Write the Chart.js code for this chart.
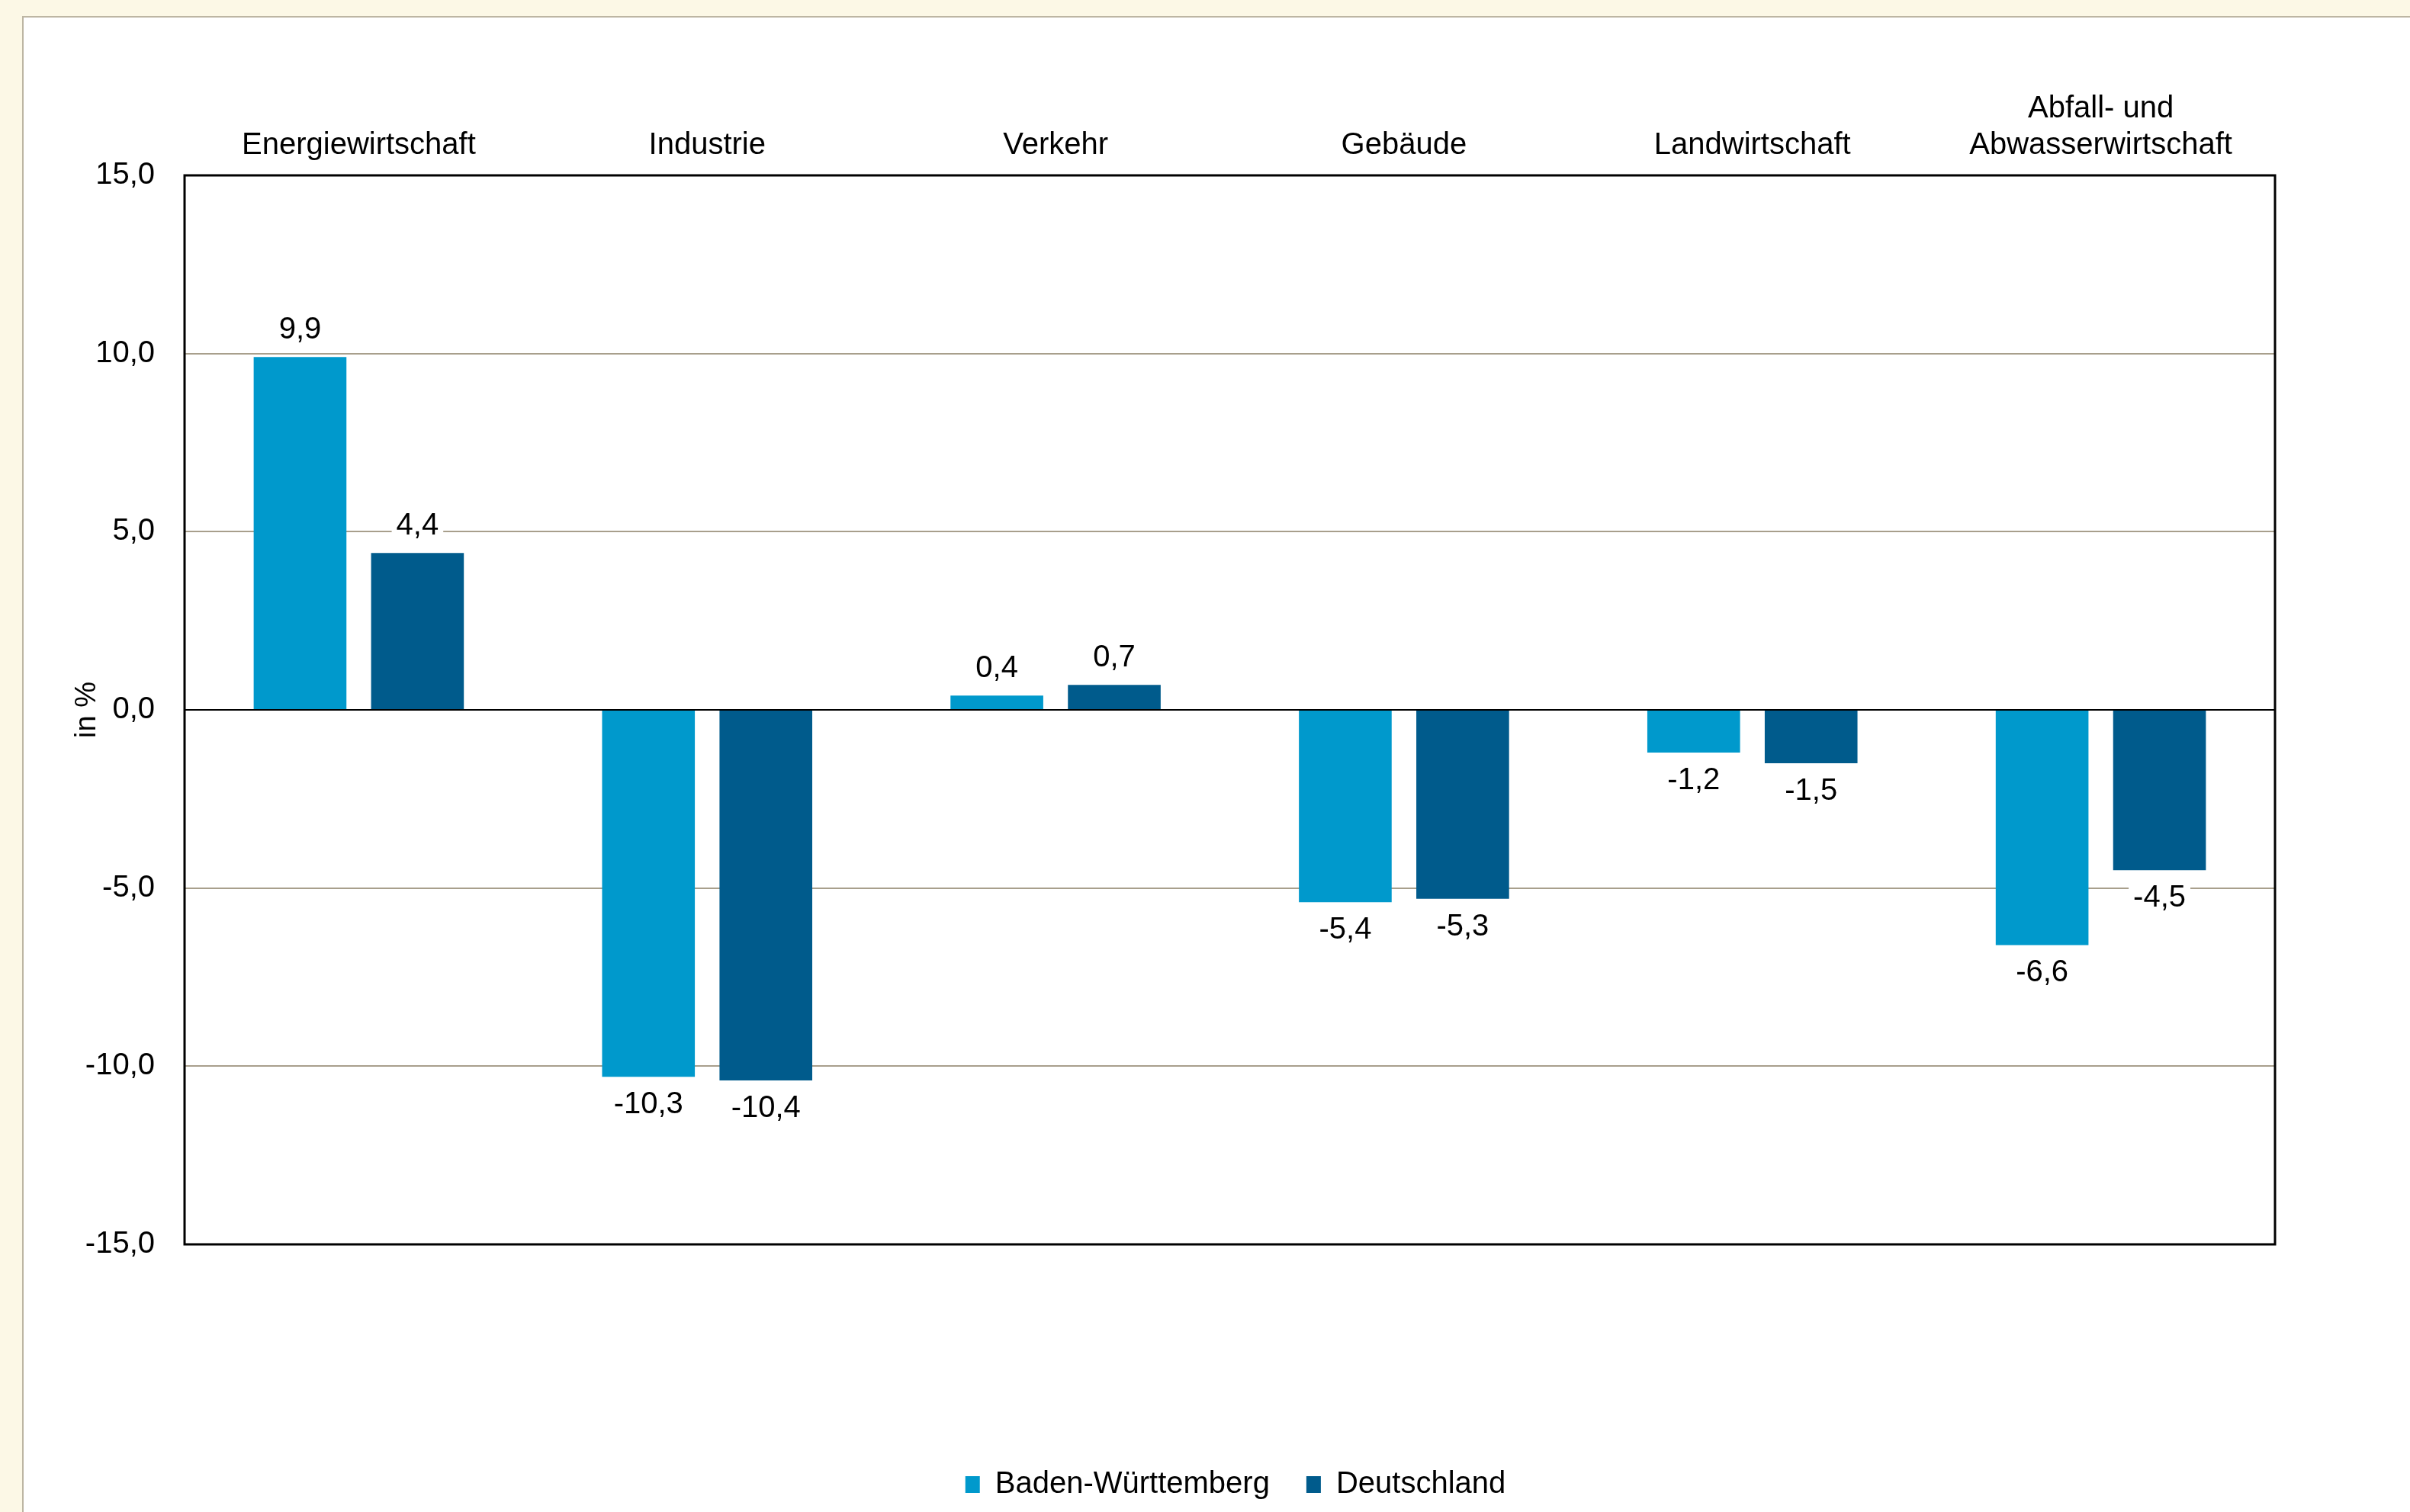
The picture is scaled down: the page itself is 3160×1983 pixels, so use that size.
<!DOCTYPE html>
<html>
<head>
<meta charset="utf-8">
<script src="https://cdn.jsdelivr.net/npm/chart.js@4.4.0/dist/chart.umd.min.js"></script>
<style>
  html, body { margin: 0; padding: 0; background: #fcf8e6; overflow: hidden; }
  #panel {
    position: absolute; left: 29px; top: 21px; right: 0; bottom: 0;
    background: #ffffff;
    border-left: 2px solid #bdb6a3; border-top: 2px solid #bdb6a3;
  }
  #wrap { position: absolute; left: 0; top: 0; width: 3160px; height: 1983px; }
</style>
</head>
<body>
<div id="panel"></div>
<div id="wrap"><canvas id="emiChart" width="3160" height="1983"></canvas></div>
<script>
const categories = [
    "Energiewirtschaft",
    "Industrie",
    "Verkehr",
    "Gebäude",
    "Landwirtschaft",
    ["Abfall- und", "Abwasserwirtschaft"]
];
const seriesNames = ["Baden-Württemberg", "Deutschland"];
const bwValues = [9.9, -10.3, 0.4, -5.4, -1.2, -6.6];
const deValues = [4.4, -10.4, 0.7, -5.3, -1.5, -4.5];
const yTicks = [-15, -10, -5, 0, 5, 10, 15];

const FONT = "'Liberation Sans', Arial, sans-serif";

function fmt(v) {
    return v.toFixed(1).replace(".", ",");
}

// value labels above / below bars, on a white patch
const valueLabels = {
    id: "valueLabels",
    afterDatasetsDraw(chart) {
        let ctx = chart.ctx;
        ctx.save();
        ctx.font = "40px " + FONT;
        ctx.textAlign = "center";
        ctx.textBaseline = "middle";
        chart.data.datasets.forEach((ds, i) => {
            chart.getDatasetMeta(i).data.forEach((bar, j) => {
                let v = ds.data[j];
                let txt = fmt(v);
                let y = v >= 0 ? bar.y - 35 : bar.y + 37;
                let w = ctx.measureText(txt).width;
                ctx.fillStyle = "#ffffff";
                ctx.fillRect(bar.x - w / 2 - 6, y - 22, w + 12, 44);
                ctx.fillStyle = "#000000";
                ctx.fillText(txt, bar.x, y);
            });
        });
        ctx.restore();
    }
};

// black frame round the plot area
const frame = {
    id: "frame",
    afterDraw(chart) {
        let a = chart.chartArea;
        let ctx = chart.ctx;
        ctx.save();
        ctx.strokeStyle = "#000000";
        ctx.lineWidth = 3;
        ctx.strokeRect(a.left, a.top, a.right - a.left, a.bottom - a.top);
        ctx.restore();
    }
};

let ctx = document.getElementById("emiChart").getContext("2d");
let chart = new Chart(ctx, {
    type: "bar",
    data: {
        labels: categories,
        datasets: [{
            label: seriesNames[0],
            data: bwValues,
            backgroundColor: "#0099cc",
            categoryPercentage: 0.674,
            barPercentage: 0.79,
            yAxisID: "y"
        }, {
            label: seriesNames[1],
            data: deValues,
            backgroundColor: "#005b8c",
            categoryPercentage: 0.674,
            barPercentage: 0.79,
            yAxisID: "y"
        }]
    },
    options: {
        responsive: false,
        animation: false,
        layout: { padding: { top: 0, right: 0, bottom: 6, left: 80 } },
        plugins: {
            tooltip: { enabled: false },
            legend: {
                position: "bottom",
                labels: {
                    font: { size: 40, family: FONT },
                    color: "#000000",
                    boxWidth: 19,
                    boxHeight: 22,
                    padding: 48
                }
            }
        },
        scales: {
            x: {
                position: "top",
                afterFit(s) { s.height = 230; },
                grid: { display: false, drawTicks: false },
                border: { display: false },
                ticks: {
                    font: { size: 40, family: FONT, lineHeight: 1.2 },
                    color: "#000000",
                    padding: 15,
                    maxRotation: 0,
                    autoSkip: false
                }
            },
            x2: {
                position: "bottom",
                afterFit(s) { s.height = 247; },
                grid: { display: false, drawTicks: false },
                border: { display: false },
                ticks: { display: false }
            },
            y: {
                min: -15,
                max: 15,
                afterFit(s) { s.width = 162; },
                afterBuildTicks(s) { s.ticks = yTicks.map(v => ({ value: v })); },
                grid: {
                    drawTicks: false,
                    lineWidth: 2,
                    color: c => c.tick.value === 0 ? "#000000" : "#a89f8c"
                },
                border: { display: false },
                ticks: {
                    font: { size: 40, family: FONT },
                    color: "#000000",
                    padding: 39,
                    callback: v => fmt(v)
                },
                title: {
                    display: true,
                    text: "in %",
                    font: { size: 38, family: FONT },
                    color: "#000000",
                    padding: { top: 12, bottom: 0 }
                }
            },
            y2: {
                position: "right",
                min: -15,
                max: 15,
                afterFit(s) { s.width = 177; },
                grid: { display: false, drawTicks: false },
                border: { display: false },
                ticks: { display: false }
            }
        }
    },
    plugins: [valueLabels, frame]
});
</script>
</body>
</html>
